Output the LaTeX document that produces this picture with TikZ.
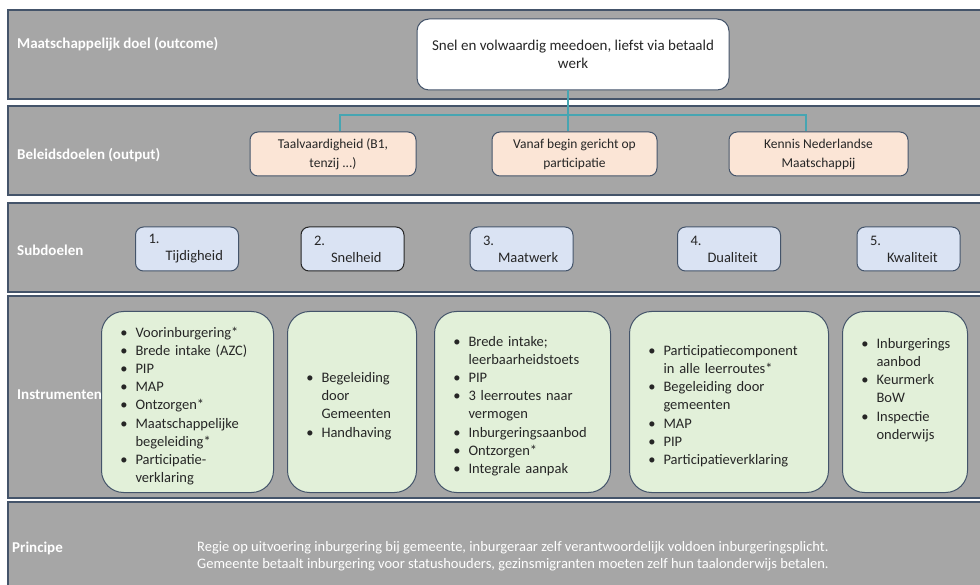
\documentclass[tikz,border=0pt]{standalone}
\usepackage{fontspec}
\setmainfont{Carlito}
\usepackage{enumitem}
\definecolor{bandgrey}{HTML}{A6A6A6}
\definecolor{bandline}{HTML}{44546A}
\definecolor{peach}{HTML}{FBE5D6}
\definecolor{paleblue}{HTML}{DAE3F3}
\definecolor{palegreen}{HTML}{E2F0D9}
\definecolor{teal}{RGB}{70,165,178}
\definecolor{ink}{RGB}{38,38,38}
\newcommand{\instrlist}[1]{\hyphenpenalty=10000\exhyphenpenalty=10000\raggedright
  \begin{itemize}[leftmargin=26pt,labelsep=8pt,itemsep=0pt,parsep=0pt,topsep=0pt,partopsep=0pt,label=\textbullet]#1\end{itemize}}
\begin{document}
\begin{tikzpicture}[x=1pt,y=-1pt,
  band/.style={draw=bandline, fill=bandgrey, line width=1.5pt},
  rowlabel/.style={anchor=west, inner sep=0pt, text=white, font=\bfseries\fontsize{15}{17}\selectfont},
  goalbox/.style={draw=bandline, fill=white, rounded corners=12pt, line width=1pt, text=ink, align=center, font=\fontsize{15}{18}\selectfont},
  beleid/.style={draw=bandline, fill=peach, rounded corners=8pt, line width=1pt, text=ink, align=center, minimum height=44pt, inner xsep=6pt, font=\fontsize{13.5}{19}\selectfont},
  subdoel/.style={draw=bandline, fill=paleblue, rounded corners=8pt, line width=1pt, text=ink, align=left, text width=77pt, inner xsep=13pt, minimum height=44pt, font=\fontsize{14.5}{17}\selectfont},
  instr/.style={draw=bandline, fill=palegreen, rounded corners=22pt, line width=1pt, text=ink, anchor=north west, inner xsep=8pt, inner ysep=0pt, minimum height=181pt, font=\fontsize{14.5}{18.2}\selectfont},
  link/.style={draw=teal, line width=1.5pt}]
\useasboundingbox (0,0) rectangle (980,585);
% bands
\draw[band] (8,10) rectangle (990,99);
\draw[band] (8,106) rectangle (990,195);
\draw[band] (8,203) rectangle (990,292);
\draw[band] (8,296) rectangle (990,498);
\draw[band] (8,502) rectangle (990,595);
\node[rowlabel] (lab1) at (17,44) {Maatschappelijk doel (outcome)};
\node[rowlabel] (lab2) at (17,155) {Beleidsdoelen (output)};
\node[rowlabel] (lab3) at (17,250) {Subdoelen};
\node[rowlabel] (lab4) at (17,395) {Instrumenten};
\node[rowlabel] (lab5) at (12,548) {Principe};
% outcome and output
\node[goalbox, minimum width=312pt, minimum height=71pt] (goal) at (573,54.5) {Snel en volwaardig meedoen, liefst via betaald\\werk};
\node[beleid, minimum width=166pt] (taal) at (333,154) {Taalvaardigheid (B1,\\tenzij ...)};
\node[beleid, minimum width=165pt] (part) at (574.5,154) {Vanaf begin gericht op\\participatie};
\node[beleid, minimum width=179pt] (knm) at (818.5,154) {Kennis Nederlandse\\Maatschappij};
\coordinate (fork) at (568,115);
\draw[link] ([xshift=-5pt]goal.south) -- (fork);
\draw[link] (fork) -| ([xshift=7pt]taal.north);
\draw[link] (fork) -| ([xshift=-6.5pt]part.north);
\draw[link] (fork) -| ([xshift=-12.5pt]knm.north);
% subdoelen
\node[subdoel] (sd1) at (187,249) {1.\\\hspace*{17pt}Tijdigheid};
\node[subdoel, draw=ink] (sd2) at (352.5,249) {2.\\\hspace*{17pt}Snelheid};
\node[subdoel] (sd3) at (521.5,249) {3.\\\hspace*{15pt}Maatwerk};
\node[subdoel] (sd4) at (729,249) {4.\\\hspace*{17pt}Dualiteit};
\node[subdoel] (sd5) at (908.5,249) {5.\\\hspace*{17pt}Kwaliteit};
% instrumenten
\node[instr, text width=156pt] (in1) at (101,311) {\instrlist{
  \item Voorinburgering*
  \item Brede intake (AZC)
  \item PIP
  \item MAP
  \item Ontzorgen*
  \item Maatschappelijke\newline begeleiding*
  \item Participatie-\newline verklaring}};
\node[instr, text width=113pt] (in2) at (287,311) {\instrlist{
  \item Begeleiding\newline door\newline Gemeenten
  \item Handhaving}};
\node[instr, text width=160pt] (in3) at (434,311) {\instrlist{
  \item Brede intake;\newline leerbaarheidstoets
  \item PIP
  \item 3 leerroutes naar\newline vermogen
  \item Inburgeringsaanbod
  \item Ontzorgen*
  \item Integrale aanpak}};
\node[instr, text width=183pt] (in4) at (629,311) {\instrlist{
  \item Participatiecomponent\newline in alle leerroutes*
  \item Begeleiding door\newline gemeenten
  \item MAP
  \item PIP
  \item Participatieverklaring}};
\node[instr, text width=109pt] (in5) at (842,311) {\instrlist{
  \item Inburgerings\newline aanbod
  \item Keurmerk\newline BoW
  \item Inspectie\newline onderwijs}\par\vspace{32pt}};
% principe
\node[anchor=west, inner sep=0pt, text=white, align=left, font=\fontsize{14.5}{16.5}\selectfont] (princ) at (197,556)
  {Regie op uitvoering inburgering bij gemeente, inburgeraar zelf verantwoordelijk voldoen inburgeringsplicht.\\
   Gemeente betaalt inburgering voor statushouders, gezinsmigranten moeten zelf hun taalonderwijs betalen.};
\end{tikzpicture}
\end{document}
